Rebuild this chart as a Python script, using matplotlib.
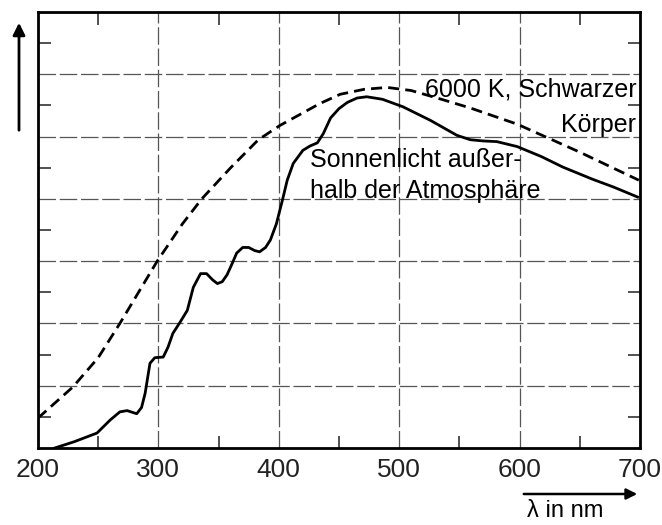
import matplotlib.pyplot as plt
from matplotlib.ticker import MultipleLocator

# Schwarzer Koerper 6000 K (relative units)
bb_nm = [200, 229, 250, 268, 299, 320, 336, 360, 383, 401, 434, 451, 471, 490, 510,
         535, 559, 598, 650, 699]
bb_val = [0.48, 0.98, 1.45, 2.0, 3.0, 3.6, 4.0, 4.5, 4.95, 5.18, 5.53, 5.68, 5.76, 5.79,
          5.74, 5.6, 5.46, 5.2, 4.75, 4.30]

# Sonnenlicht ausserhalb der Atmosphaere
sun_nm = [214, 230, 249, 260, 268, 274, 282, 286, 289, 293, 297, 304, 308, 312, 318, 324,
          329, 335, 340, 345, 349, 353, 357, 361, 365, 370, 375, 380, 384, 389, 393, 398,
          403, 407, 412, 420, 426, 432, 437, 443, 450, 457, 465, 473, 486, 503, 526, 548,
          559, 570, 581, 598, 618, 636, 660, 678, 698]
sun_val = [0.0, 0.1, 0.24, 0.45, 0.58, 0.6, 0.55, 0.65, 0.88, 1.36, 1.45, 1.46, 1.62, 1.84,
           2.02, 2.21, 2.58, 2.8, 2.8, 2.7, 2.64, 2.67, 2.78, 2.95, 3.13, 3.22, 3.22, 3.17,
           3.15, 3.22, 3.34, 3.6, 3.98, 4.3, 4.57, 4.78, 4.85, 4.9, 5.05, 5.3, 5.45, 5.55,
           5.62, 5.64, 5.6, 5.48, 5.26, 5.02, 4.95, 4.93, 4.92, 4.84, 4.68, 4.51, 4.32,
           4.19, 4.03]

x_ticks = [200, 300, 400, 500, 600, 700]

plt.rcParams['font.family'] = ['Liberation Sans', 'DejaVu Sans']

fig = plt.figure(figsize=(6.62, 5.25), dpi=100)
ax = fig.add_axes([0.0574, 0.1467, 0.9094, 0.8303])

ax.plot(bb_nm, bb_val, color='black', lw=2.0, linestyle=(0, (4, 2.2)))
ax.plot(sun_nm, sun_val, color='black', lw=2.0, solid_joinstyle='round')

ax.set_xlim(200, 700)
ax.set_ylim(0, 7)
ax.set_xticks(x_ticks)
ax.xaxis.set_minor_locator(MultipleLocator(50))
ax.yaxis.set_major_locator(MultipleLocator(1))
ax.yaxis.set_minor_locator(MultipleLocator(0.5))
ax.set_yticklabels([])
ax.tick_params(which='major', length=0, labelsize=19, pad=7, colors='#222222')
ax.tick_params(which='minor', direction='in', length=9, width=1.2,
               top=True, right=True, color='#333333')
ax.grid(True, which='major', color='#555555', lw=0.9, linestyle=(0, (14, 3)))

for s in ax.spines.values():
    s.set_linewidth(2.0)

ax.text(697, 5.75, '6000 K, Schwarzer', ha='right', va='center', fontsize=18)
ax.text(697, 5.18, 'Körper', ha='right', va='center', fontsize=18)
ax.text(426, 4.62, 'Sonnenlicht außer-', ha='left', va='center', fontsize=18)
ax.text(426, 4.12, 'halb der Atmosphäre', ha='left', va='center', fontsize=18)

# arrows for the axes, outside the frame
ax.annotate('', xy=(19 / 662, 1 - 20 / 525), xytext=(19 / 662, 1 - 133 / 525),
            xycoords='figure fraction',
            arrowprops=dict(arrowstyle='-|>', color='black', lw=2.0, mutation_scale=18))
ax.annotate('', xy=(640 / 662, 1 - 494 / 525), xytext=(521 / 662, 1 - 494 / 525),
            xycoords='figure fraction',
            arrowprops=dict(arrowstyle='-|>', color='black', lw=1.8, mutation_scale=16))
fig.text(565 / 662, 1 - 511 / 525, 'λ in nm', ha='center', va='center', fontsize=17)

fig.savefig('out.png', dpi=100)
